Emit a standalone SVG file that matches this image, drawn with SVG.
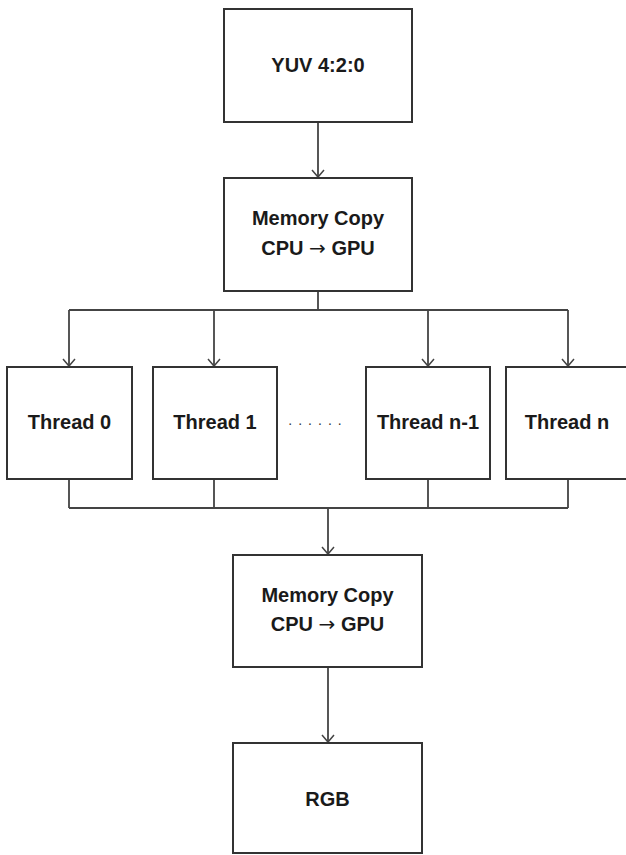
<svg xmlns="http://www.w3.org/2000/svg" width="626" height="855" viewBox="0 0 626 855">
<style>
.box{fill:#fff;stroke:#333;stroke-width:2}
.lbl{font-family:"Liberation Sans",Arial,sans-serif;font-weight:bold;font-size:20px;fill:#1a1a1a;text-anchor:middle}
.ar{font-family:"DejaVu Sans",sans-serif;font-weight:normal}
.con{fill:none;stroke:#444;stroke-width:1.8}
</style>
<defs>
<marker id="arr" markerWidth="10" markerHeight="14" refX="8" refY="7" orient="auto" markerUnits="userSpaceOnUse" viewBox="0 0 10 14">
<path d="M1,1 L8,7 L1,13" fill="none" stroke="#444" stroke-width="1.5"/>
</marker>
</defs>
<rect width="626" height="855" fill="#fff"/>
<g id="connectors">
<line class="con" x1="318" y1="122" x2="318" y2="177" marker-end="url(#arr)"/>
<path class="con" d="M318,291 V310 M69,310 H568"/>
<line class="con" x1="69" y1="310" x2="69" y2="366" marker-end="url(#arr)"/>
<line class="con" x1="214" y1="310" x2="214" y2="366" marker-end="url(#arr)"/>
<line class="con" x1="428" y1="310" x2="428" y2="366" marker-end="url(#arr)"/>
<line class="con" x1="568" y1="310" x2="568" y2="366" marker-end="url(#arr)"/>
<path class="con" d="M69,479 V508 M214,479 V508 M428,479 V508 M568,479 V508 M69,508 H568"/>
<line class="con" x1="328" y1="508" x2="328" y2="554" marker-end="url(#arr)"/>
<line class="con" x1="328" y1="667" x2="328" y2="742" marker-end="url(#arr)"/>
</g>
<g id="yuv"><rect class="box" x="224" y="9" width="188" height="113"/><text class="lbl" x="318" y="72">YUV 4:2:0</text></g>
<g id="copy1"><rect class="box" x="224" y="178" width="188" height="113"/><text class="lbl" x="318" y="225">Memory Copy</text><text class="lbl" x="318" y="255">CPU <tspan class="ar">→</tspan> GPU</text></g>
<g id="thread0"><rect class="box" x="7" y="367" width="125" height="112"/><text class="lbl" x="69.5" y="429">Thread 0</text></g>
<g id="thread1"><rect class="box" x="153" y="367" width="124" height="112"/><text class="lbl" x="215" y="429">Thread 1</text></g>
<g id="dots"><text x="318" y="425" font-family="Liberation Sans,Arial,sans-serif" font-size="14" fill="#333" text-anchor="middle" letter-spacing="6">......</text></g>
<g id="threadn1"><rect class="box" x="366" y="367" width="124" height="112"/><text class="lbl" x="428" y="429">Thread n-1</text></g>
<g id="threadn"><rect class="box" x="506" y="367" width="124" height="112"/><text class="lbl" x="567" y="429">Thread n</text></g>
<g id="copy2"><rect class="box" x="233" y="555" width="189" height="112"/><text class="lbl" x="327.5" y="602">Memory Copy</text><text class="lbl" x="327.5" y="631">CPU <tspan class="ar">→</tspan> GPU</text></g>
<g id="rgb"><rect class="box" x="233" y="743" width="189" height="110"/><text class="lbl" x="327.5" y="806">RGB</text></g>
</svg>
